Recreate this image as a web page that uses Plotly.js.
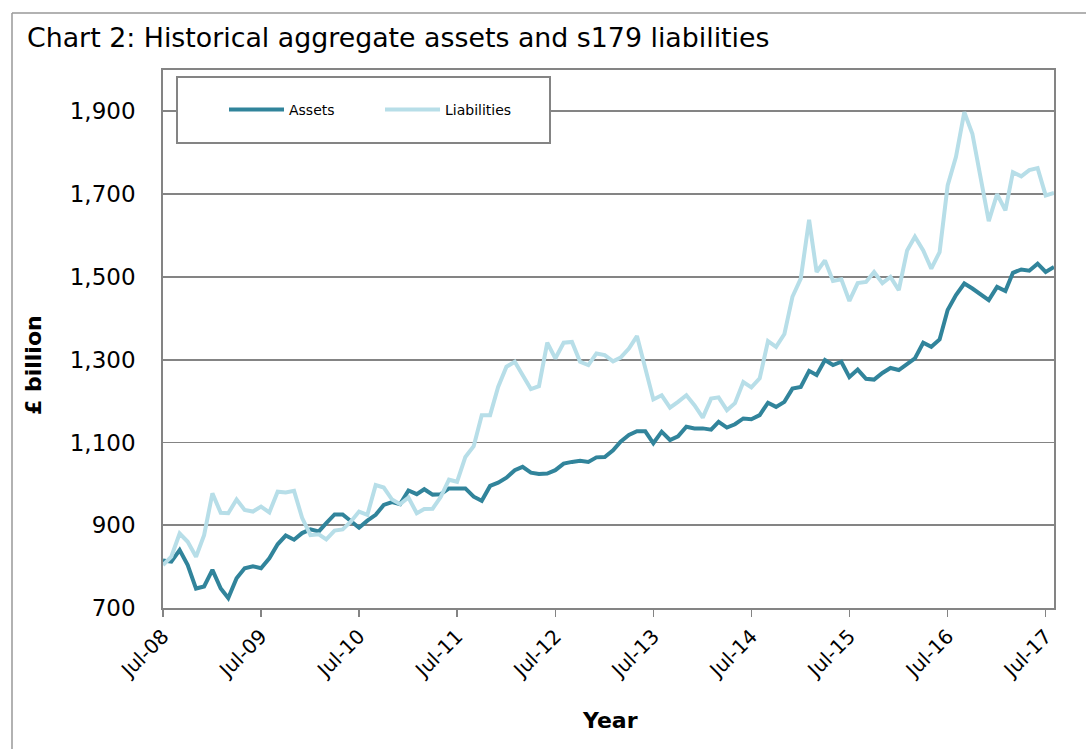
<!DOCTYPE html>
<html>
<head>
<meta charset="utf-8">
<script src="https://cdn.plot.ly/plotly-3.0.1.min.js"></script>
<style>
html,body{margin:0;padding:0;background:#fff;}
#chart{width:1086px;height:749px;}
</style>
</head>
<body>
<div id="chart"></div>
<script>
// Monthly data, Jul-08 to Aug-17 (£ billion)
const startYear = 2008;
const startMonthIndex = 6; // July
const assets = [
  815, 812, 840, 804, 747, 752, 792, 747, 724, 772, 796, 801,
  796, 820, 854, 875, 865, 881, 890, 885, 905, 926, 926, 911,
  894, 911, 925, 949, 956, 951, 984, 975, 987, 974, 975, 989,
  989, 989, 969, 959, 995, 1003, 1015, 1033, 1041, 1027, 1024, 1025,
  1033, 1049, 1053, 1056, 1053, 1064, 1065, 1081, 1102, 1118, 1127, 1127,
  1098, 1126, 1106, 1115, 1138, 1134, 1134, 1131, 1150, 1136, 1144, 1158,
  1156, 1166, 1196, 1186, 1198, 1230, 1234, 1273, 1263, 1299, 1287, 1295,
  1258, 1276, 1254, 1252, 1268, 1280, 1275, 1289, 1303, 1341, 1331, 1349,
  1420, 1456, 1484, 1472, 1458, 1444, 1476, 1466, 1510, 1518, 1515, 1532,
  1512, 1524
];
const liabilities = [
  804, 824, 880, 860, 824, 876, 977, 930, 929, 962, 937, 933,
  945, 931, 981, 979, 983, 918, 876, 878, 866, 887, 890, 909,
  933, 925, 997, 991, 962, 951, 967, 929, 939, 940, 968, 1010,
  1005, 1065, 1091, 1166, 1166, 1234, 1283, 1295, 1263, 1229, 1236, 1341,
  1303, 1341, 1343, 1295, 1287, 1315, 1311, 1296, 1305, 1327, 1357, 1280,
  1204, 1214, 1184, 1198, 1214, 1190, 1160, 1206, 1209, 1178, 1195, 1246,
  1233, 1255, 1345, 1331, 1362, 1452, 1496, 1638, 1512, 1540, 1490, 1494,
  1442, 1485, 1488, 1512, 1485, 1500, 1468, 1564, 1597, 1564, 1520, 1560,
  1721, 1790, 1898, 1846, 1737, 1635, 1700, 1661, 1753, 1743, 1758, 1763,
  1697, 1703
];
const yTickVals = [700, 900, 1100, 1300, 1500, 1700, 1900];
const seriesNames = ['Assets', 'Liabilities'];
const titleText = 'Chart 2: Historical aggregate assets and s179 liabilities';
const xTitle = 'Year';
const yTitle = '£ billion';

const months = [];
for (let i = 0; i < assets.length; i++) {
  const d = new Date(Date.UTC(startYear, startMonthIndex + i, 1));
  months.push(d.toISOString().slice(0, 10));
}

const FONT = 'DejaVu Sans, Verdana, sans-serif';
const GRID = '#848484';

const traces = [
  {x: months, y: assets, name: seriesNames[0], type: 'scatter', mode: 'lines',
   line: {color: '#31849b', width: 4}},
  {x: months, y: liabilities, name: seriesNames[1], type: 'scatter', mode: 'lines',
   line: {color: '#b7dee8', width: 4}}
];

const layout = {
  width: 1086, height: 749,
  paper_bgcolor: '#fff', plot_bgcolor: '#fff',
  margin: {l: 163, r: 32, t: 70, b: 141, pad: 0},
  font: {family: FONT, color: '#000'},
  title: {
    text: titleText, xref: 'container', yref: 'container',
    x: 27 / 1086, xanchor: 'left', y: 1 - 38 / 749, yanchor: 'middle',
    font: {family: 'DejaVu Sans, sans-serif', size: 26.8, color: '#000'}
  },
  xaxis: {
    type: 'date', range: [months[0], months[months.length - 1]],
    tick0: months[0], dtick: 'M12', tickformat: '%b-%y', tickangle: -45,
    ticks: 'outside', ticklen: 7, tickwidth: 1.5, tickcolor: GRID,
    showline: true, linecolor: GRID, linewidth: 1.8, mirror: true,
    showgrid: false, zeroline: false,
    tickfont: {family: FONT, size: 20, color: '#000'}
  },
  yaxis: {
    range: [700, 2000], tickvals: yTickVals, tickformat: ',d',
    showgrid: true, gridcolor: GRID, gridwidth: 1.8,
    showline: true, linecolor: GRID, linewidth: 1.8, mirror: true,
    ticks: '', zeroline: false, ticklabelstandoff: 21,
    tickfont: {family: FONT, size: 23, color: '#000'}
  },
  showlegend: true,
  legend: {
    orientation: 'h', x: (224 - 163) / 891, xanchor: 'left',
    y: (608 - 110) / 538, yanchor: 'middle',
    bgcolor: 'rgba(0,0,0,0)', borderwidth: 0,
    font: {family: FONT, size: 14, color: '#000'},
    entrywidth: 86, entrywidthmode: 'pixels', itemwidth: 55
  },
  shapes: [
    {type: 'rect', xref: 'paper', yref: 'paper', layer: 'above',
     x0: (177 - 163) / 891, x1: (550 - 163) / 891,
     y0: (608 - 143) / 538, y1: (608 - 77) / 538,
     line: {color: GRID, width: 2}, fillcolor: '#fff'},
    {type: 'line', xref: 'paper', yref: 'paper',
     x0: (12 - 163) / 891, x1: (12 - 163) / 891,
     y0: (608 - 760) / 538, y1: (608 - 13) / 538,
     line: {color: '#999', width: 1.5}},
    {type: 'line', xref: 'paper', yref: 'paper',
     x0: (12 - 163) / 891, x1: (1100 - 163) / 891,
     y0: (608 - 13) / 538, y1: (608 - 13) / 538,
     line: {color: '#999', width: 1.5}}
  ],
  annotations: [
    {text: '<b>' + yTitle + '</b>', xref: 'paper', yref: 'paper',
     x: (33 - 163) / 891, y: (608 - 365) / 538, xanchor: 'center', yanchor: 'middle',
     textangle: -90, showarrow: false, font: {family: FONT, size: 22, color: '#000'}},
    {text: '<b>' + xTitle + '</b>', xref: 'paper', yref: 'paper',
     x: (610 - 163) / 891, y: (608 - 720) / 538, xanchor: 'center', yanchor: 'middle',
     showarrow: false, font: {family: FONT, size: 22, color: '#000'}}
  ]
};

Plotly.newPlot('chart', traces, layout, {displayModeBar: false, staticPlot: true});
</script>
</body>
</html>
